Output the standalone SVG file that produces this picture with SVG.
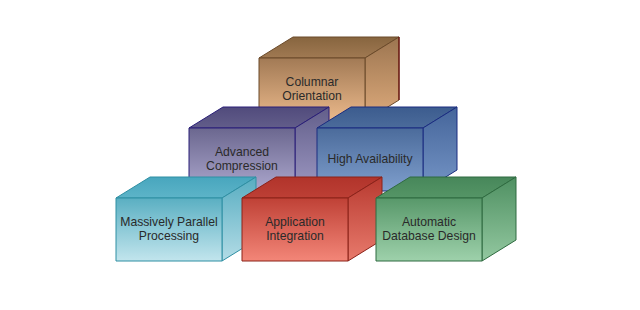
<svg xmlns="http://www.w3.org/2000/svg" xmlns:xlink="http://www.w3.org/1999/xlink" width="640" height="310" viewBox="0 0 640 310">
<style>
  text { font-family: "Liberation Sans", Arial, sans-serif; font-size: 12.2px; fill: #2a2a2a; text-anchor: middle; }
  .face { stroke-width: 1; stroke-linejoin: round; }
  .tan { stroke: #6b4a2a; }
  .pur { stroke: #2a1f78; }
  .blu { stroke: #1a2c80; }
  .cya { stroke: #2f8fa3; }
  .red { stroke: #8b2219; }
  .grn { stroke: #2f6b40; }
</style>
<defs>
  <path id="front" d="M0,0 H106 V63 H0 Z"/>
  <path id="top" d="M0,0 L34,-21 H140 L106,0 Z"/>
  <path id="right" d="M106,0 L140,-21 V42 L106,63 Z"/>
  <linearGradient id="tanF" x1="0" y1="0" x2="0" y2="1"><stop offset="0" stop-color="#a27a55"/><stop offset="1" stop-color="#ebb98b"/></linearGradient>
  <linearGradient id="tanT" x1="0" y1="0" x2="0" y2="1"><stop offset="0" stop-color="#87653f"/><stop offset="1" stop-color="#a07952"/></linearGradient>
  <linearGradient id="tanR" x1="0" y1="0" x2="0" y2="1"><stop offset="0" stop-color="#9c7550"/><stop offset="1" stop-color="#deab7c"/></linearGradient>
  <linearGradient id="purF" x1="0" y1="0" x2="0" y2="1"><stop offset="0" stop-color="#6b678f"/><stop offset="1" stop-color="#aca7cd"/></linearGradient>
  <linearGradient id="purT" x1="0" y1="0" x2="0" y2="1"><stop offset="0" stop-color="#514b7c"/><stop offset="1" stop-color="#625d8a"/></linearGradient>
  <linearGradient id="purR" x1="0" y1="0" x2="0" y2="1"><stop offset="0" stop-color="#625e8a"/><stop offset="1" stop-color="#9d98c2"/></linearGradient>
  <linearGradient id="bluF" x1="0" y1="0" x2="0" y2="1"><stop offset="0" stop-color="#4b6b9b"/><stop offset="1" stop-color="#7f9fcd"/></linearGradient>
  <linearGradient id="bluT" x1="0" y1="0" x2="0" y2="1"><stop offset="0" stop-color="#3c5c8e"/><stop offset="1" stop-color="#4b6b9b"/></linearGradient>
  <linearGradient id="bluR" x1="0" y1="0" x2="0" y2="1"><stop offset="0" stop-color="#45659a"/><stop offset="1" stop-color="#7595c6"/></linearGradient>
  <linearGradient id="cyaF" x1="0" y1="0" x2="0" y2="1"><stop offset="0" stop-color="#5aafc2"/><stop offset="1" stop-color="#c2e5ed"/></linearGradient>
  <linearGradient id="cyaT" x1="0" y1="0" x2="0" y2="1"><stop offset="0" stop-color="#48a6be"/><stop offset="1" stop-color="#5db4c8"/></linearGradient>
  <linearGradient id="cyaR" x1="0" y1="0" x2="0" y2="1"><stop offset="0" stop-color="#58adc1"/><stop offset="1" stop-color="#b3dce6"/></linearGradient>
  <linearGradient id="redF" x1="0" y1="0" x2="0" y2="1"><stop offset="0" stop-color="#bf4136"/><stop offset="1" stop-color="#f38678"/></linearGradient>
  <linearGradient id="redT" x1="0" y1="0" x2="0" y2="1"><stop offset="0" stop-color="#b1342b"/><stop offset="1" stop-color="#bd3f35"/></linearGradient>
  <linearGradient id="redR" x1="0" y1="0" x2="0" y2="1"><stop offset="0" stop-color="#b83a30"/><stop offset="1" stop-color="#e87a6c"/></linearGradient>
  <linearGradient id="grnF" x1="0" y1="0" x2="0" y2="1"><stop offset="0" stop-color="#58986a"/><stop offset="1" stop-color="#9ed1ab"/></linearGradient>
  <linearGradient id="grnT" x1="0" y1="0" x2="0" y2="1"><stop offset="0" stop-color="#47875a"/><stop offset="1" stop-color="#559566"/></linearGradient>
  <linearGradient id="grnR" x1="0" y1="0" x2="0" y2="1"><stop offset="0" stop-color="#4f9062"/><stop offset="1" stop-color="#93c8a0"/></linearGradient>
</defs>
<rect width="640" height="310" fill="#ffffff"/>

<g id="columnar-orientation" transform="translate(259,58)">
  <use href="#top" class="face tan" fill="url(#tanT)"/>
  <use href="#right" class="face tan" fill="url(#tanR)"/>
  <use href="#front" class="face tan" fill="url(#tanF)"/>
  <line x1="140" y1="-21" x2="140" y2="42" stroke="#6a0a0a" stroke-width="1.2"/>
  <text x="53" y="27.5">Columnar<tspan x="53" dy="14">Orientation</tspan></text>
</g>

<g id="advanced-compression" transform="translate(189,128)">
  <use href="#top" class="face pur" fill="url(#purT)"/>
  <use href="#right" class="face pur" fill="url(#purR)"/>
  <use href="#front" class="face pur" fill="url(#purF)"/>
  <text x="53" y="27.5">Advanced<tspan x="53" dy="14">Compression</tspan></text>
</g>

<g id="high-availability" transform="translate(317,128)">
  <use href="#top" class="face blu" fill="url(#bluT)"/>
  <use href="#right" class="face blu" fill="url(#bluR)"/>
  <use href="#front" class="face blu" fill="url(#bluF)"/>
  <text x="53" y="35">High Availability</text>
</g>

<g id="massively-parallel-processing" transform="translate(116,198)">
  <use href="#top" class="face cya" fill="url(#cyaT)"/>
  <use href="#right" class="face cya" fill="url(#cyaR)"/>
  <use href="#front" class="face cya" fill="url(#cyaF)"/>
  <text x="53" y="27.5">Massively Parallel<tspan x="53" dy="14">Processing</tspan></text>
</g>

<g id="application-integration" transform="translate(242,198)">
  <use href="#top" class="face red" fill="url(#redT)"/>
  <use href="#right" class="face red" fill="url(#redR)"/>
  <use href="#front" class="face red" fill="url(#redF)"/>
  <text x="53" y="27.5">Application<tspan x="53" dy="14">Integration</tspan></text>
</g>

<g id="automatic-database-design" transform="translate(376,198)">
  <use href="#top" class="face grn" fill="url(#grnT)"/>
  <use href="#right" class="face grn" fill="url(#grnR)"/>
  <use href="#front" class="face grn" fill="url(#grnF)"/>
  <text x="53" y="27.5">Automatic<tspan x="53" dy="14">Database Design</tspan></text>
</g>

<g id="connectors"/>
</svg>
